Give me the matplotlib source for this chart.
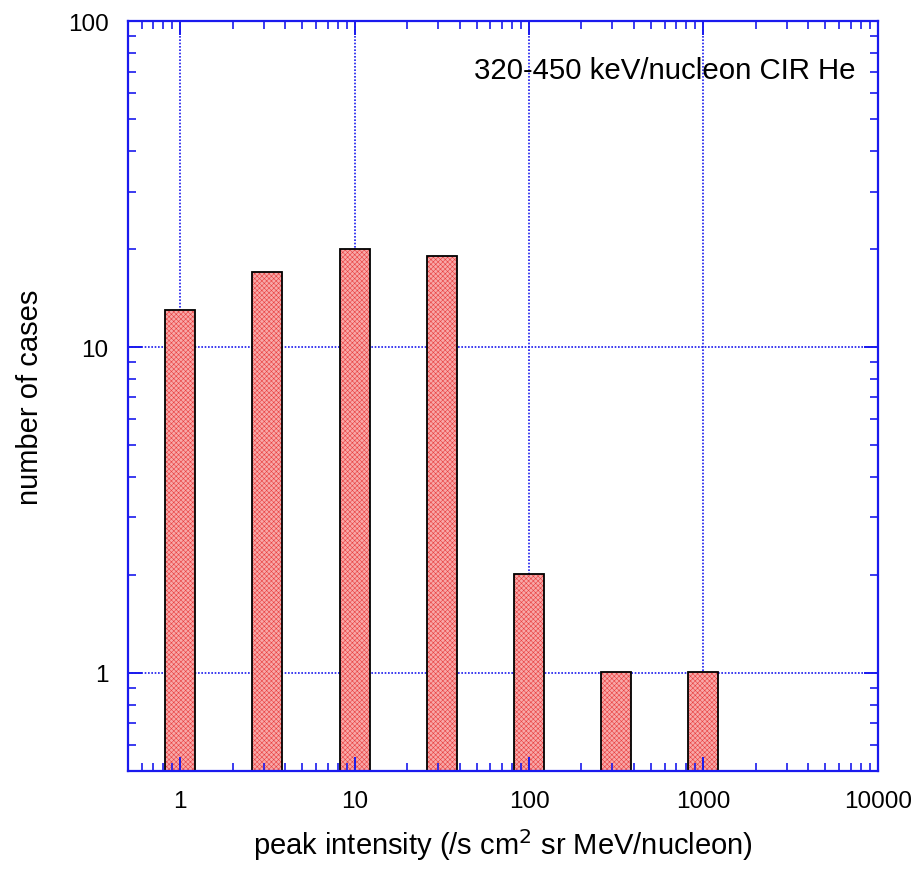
import numpy as np
import matplotlib
matplotlib.use("Agg")
import matplotlib.pyplot as plt
from matplotlib.ticker import LogLocator, FixedLocator, NullFormatter

plt.rcParams['font.family'] = ['Liberation Sans', 'DejaVu Sans']
plt.rcParams['hatch.linewidth'] = 0.4

# half-decade bins of peak intensity, bar centres and counts
bin_centers = [1.0, 3.16, 10.0, 31.6, 100.0, 316.0, 1000.0]
counts = [13, 17, 20, 19, 2, 1, 1]
half_width_dex = 0.086  # bar half-width in decades

blue = '#1a1aee'

fig = plt.figure(figsize=(9.2, 8.7), dpi=100)
ax = fig.add_axes([0.139, 0.1126, 0.815, 0.862])
ax.set_xscale('log')
ax.set_yscale('log')
ax.set_xlim(0.5, 10000)
ax.set_ylim(0.5, 100)

# grid under the bars
for xv in [1, 10, 100, 1000]:
    ax.axvline(xv, color=blue, lw=1.2, ls=(0, (1, 1)), zorder=0.5)
for yv in [1, 10]:
    ax.axhline(yv, color=blue, lw=1.2, ls=(0, (1, 1)), zorder=0.5)

c = np.array(bin_centers)
left = c * 10 ** (-half_width_dex)
right = c * 10 ** (half_width_dex)
ax.bar(left, counts, width=right - left, align='edge', bottom=0.01,
       color='#f8a8a8', edgecolor='#e84040', hatch='xxxxxxx', lw=0, zorder=1)
ax.bar(left, counts, width=right - left, align='edge', bottom=0.01,
       fill=False, edgecolor='black', lw=1.3, zorder=1.1)

for s in ax.spines.values():
    s.set_color(blue)
    s.set_linewidth(1.6)
    s.set_zorder(3)

ax.xaxis.set_major_locator(FixedLocator([1, 10, 100, 1000, 10000]))
ax.set_xticklabels(['1', '10', '100', '1000', '10000'])
ax.xaxis.set_minor_locator(LogLocator(base=10, subs=np.arange(2, 10), numticks=20))
ax.xaxis.set_minor_formatter(NullFormatter())
ax.yaxis.set_major_locator(FixedLocator([1, 10, 100]))
ax.set_yticklabels(['1', '10', '100'])
ax.yaxis.set_minor_locator(LogLocator(base=10, subs=np.arange(2, 10), numticks=20))
ax.yaxis.set_minor_formatter(NullFormatter())

ax.tick_params(which='both', direction='in', top=True, right=True,
               color=blue, labelcolor='black', zorder=3)
ax.tick_params(which='major', length=10, width=1.4, pad=14, labelsize=17.5)
ax.tick_params(which='minor', length=5.5, width=1.2)

ax.set_xlabel('peak intensity (/s cm$^2$ sr MeV/nucleon)', fontsize=21, labelpad=10)
ax.set_ylabel('number of cases', fontsize=21, labelpad=17)

ax.text(0.97, 0.935, '320-450 keV/nucleon CIR He', transform=ax.transAxes,
        ha='right', va='center', fontsize=21.2)

fig.savefig('out.png', dpi=100)
